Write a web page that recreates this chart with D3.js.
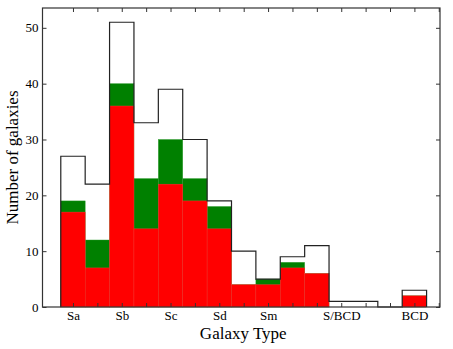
<!DOCTYPE html>
<html>
<head>
<meta charset="utf-8">
<script src="https://cdn.jsdelivr.net/npm/d3@7"></script>
<style>
  html, body { margin: 0; padding: 0; background: #fff; }
  svg { display: block; }
  svg text { font-family: "Liberation Serif", "Times New Roman", serif !important; fill: #000; }
</style>
</head>
<body>
<svg id="chart" width="453" height="349"></svg>
<script>
// ---- data ----
const bins = [0, 1, 2, 3, 4, 5, 6, 7, 8, 9, 10, 11, 12, 13, 14];
const totalCounts = [27, 22, 51, 33, 39, 30, 19, 10, 5, 9, 11, 1, 1, 0, 3];
const greenCounts = [19, 12, 40, 23, 30, 23, 18, 4, 5, 8, 6, 0, 0, 0, 2];
const redCounts   = [17, 7, 36, 14, 22, 19, 14, 4, 4, 7, 6, 0, 0, 0, 2];
const typeTickValues = [0, 2, 4, 6, 8, 11, 14];
const typeTickLabels = ["Sa", "Sb", "Sc", "Sd", "Sm", "S/BCD", "BCD"];
const yTickValues = [0, 10, 20, 30, 40, 50];

// ---- layout ----
const svg = d3.select("#chart");
const L = 42.5, R = 440, T = 8, B = 307;

const x = d3.scaleLinear().domain([-1.25, 15.05]).range([L, R]);
const y = d3.scaleLinear().domain([0, 53.55]).range([B, T]);
const binW = x(1) - x(0);

const g = svg.append("g");

// green bars
g.selectAll("rect.green").data(bins).enter().append("rect")
  .attr("class", "green")
  .attr("x", d => x(d - 0.5))
  .attr("width", binW)
  .attr("y", (d, i) => y(greenCounts[i]))
  .attr("height", (d, i) => y(0) - y(greenCounts[i]))
  .attr("fill", "#008000")
  .attr("stroke", "#2a9a2a")
  .attr("stroke-width", 0.4);

// red bars
g.selectAll("rect.red").data(bins).enter().append("rect")
  .attr("class", "red")
  .attr("x", d => x(d - 0.5))
  .attr("width", binW)
  .attr("y", (d, i) => y(redCounts[i]))
  .attr("height", (d, i) => y(0) - y(redCounts[i]))
  .attr("fill", "#ff0000")
  .attr("stroke", "#ff3a3a")
  .attr("stroke-width", 0.4);

// step outline of totals
const pts = [[bins[0] - 0.5, 0]];
bins.forEach((b, i) => { pts.push([b - 0.5, totalCounts[i]]); pts.push([b + 0.5, totalCounts[i]]); });
pts.push([bins[bins.length - 1] + 0.5, 0]);
g.append("path")
  .attr("d", d3.line().x(d => x(d[0])).y(d => y(d[1]))(pts))
  .attr("fill", "none")
  .attr("stroke", "#222")
  .attr("stroke-width", 1.2);

// axes (inward ticks)
const xTicksAll = d3.range(0, 16);
const axB = d3.axisBottom(x).tickValues(xTicksAll).tickSize(-4).tickPadding(4)
  .tickFormat(d => { const k = typeTickValues.indexOf(d); return k >= 0 ? typeTickLabels[k] : ""; });
const axT = d3.axisTop(x).tickValues(xTicksAll).tickSize(-4).tickFormat("");
const axL = d3.axisLeft(y).tickValues(yTickValues).tickSize(-4).tickPadding(4).tickFormat(d3.format("d"));
const axR = d3.axisRight(y).tickValues(yTickValues).tickSize(-4).tickFormat("");

function styleAxis(sel) {
  sel.attr("font-family", "Liberation Serif").attr("font-size", 13);
  sel.select(".domain").remove();
  sel.selectAll("line").attr("stroke", "#333").attr("stroke-width", 1);
  sel.selectAll("text").attr("font-family", "Liberation Serif").attr("font-size", 13).attr("fill", "#000");
}
const gB = svg.append("g").attr("transform", `translate(0,${B})`); gB.call(axB); styleAxis(gB);
const gT = svg.append("g").attr("transform", `translate(0,${T})`); gT.call(axT); styleAxis(gT);
const gL = svg.append("g").attr("transform", `translate(${L},0)`); gL.call(axL); styleAxis(gL);
const gR = svg.append("g").attr("transform", `translate(${R},0)`); gR.call(axR); styleAxis(gR);

// frame
svg.append("rect")
  .attr("x", L).attr("y", T).attr("width", R - L).attr("height", B - T)
  .attr("fill", "none").attr("stroke", "#333").attr("stroke-width", 1.2);

// axis titles
svg.append("text")
  .attr("x", (L + R) / 2 + 2).attr("y", 339)
  .attr("text-anchor", "middle")
  .attr("font-size", 17)
  .text("Galaxy Type");
svg.append("text")
  .attr("transform", `translate(18,${(T + B) / 2}) rotate(-90)`)
  .attr("text-anchor", "middle")
  .attr("font-size", 17)
  .text("Number of galaxies");
</script>
</body>
</html>
